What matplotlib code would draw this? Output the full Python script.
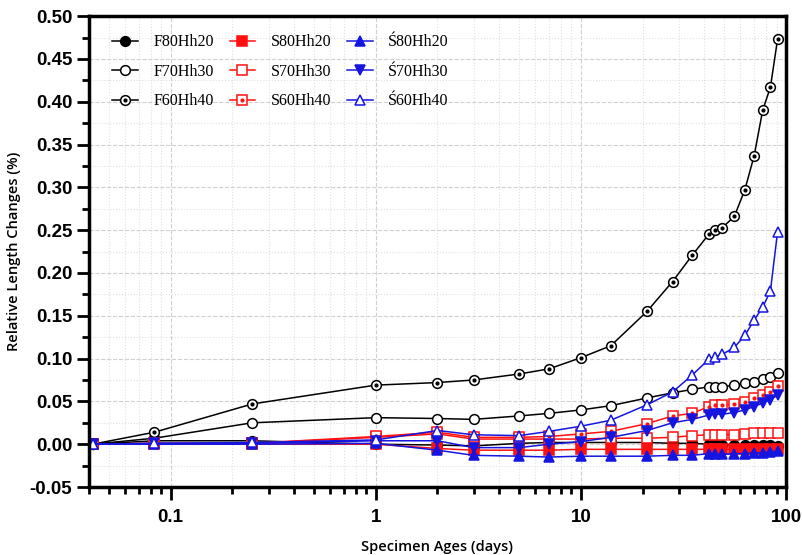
import matplotlib.pyplot as plt
from matplotlib.ticker import FixedLocator, MultipleLocator, NullFormatter, LogLocator
from matplotlib.legend_handler import HandlerTuple
import numpy as np

# ages in days (1 h, 2 h, 6 h, then days)
days = [1 / 24, 2 / 24, 6 / 24, 1, 2, 3, 5, 7, 10, 14, 21, 28, 35, 42, 45, 49, 56, 63, 70, 77, 84, 91]

f80 = [0, 0.004, 0.004, 0.000, -0.001, -0.002, 0.001, 0.002, 0.002, 0.002, 0.002, 0.001,
       0.001, 0.000, 0.000, -0.001, -0.001, -0.001, -0.001, -0.001, -0.001, -0.002]
f70 = [0, 0.007, 0.025, 0.031, 0.030, 0.029, 0.033, 0.036, 0.040, 0.045, 0.054, 0.060,
       0.064, 0.067, 0.067, 0.067, 0.069, 0.071, 0.073, 0.076, 0.078, 0.083]
f60 = [0, 0.014, 0.047, 0.069, 0.072, 0.075, 0.082, 0.088, 0.101, 0.115, 0.155, 0.190,
       0.221, 0.245, 0.250, 0.253, 0.266, 0.297, 0.337, 0.390, 0.417, 0.473]
s80 = [0, 0.000, 0.000, 0.000, -0.005, -0.007, -0.007, -0.007, -0.006, -0.006, -0.006, -0.006,
       -0.006, -0.006, -0.006, -0.006, -0.006, -0.006, -0.006, -0.006, -0.006, -0.006]
s70 = [0, 0.001, 0.001, 0.008, 0.012, 0.006, 0.006, 0.006, 0.006, 0.007, 0.007, 0.008,
       0.010, 0.011, 0.011, 0.011, 0.011, 0.012, 0.013, 0.013, 0.013, 0.013]
s60 = [0, 0.001, 0.001, 0.009, 0.014, 0.008, 0.008, 0.009, 0.012, 0.015, 0.024, 0.033,
       0.036, 0.044, 0.046, 0.046, 0.047, 0.049, 0.054, 0.058, 0.061, 0.068]
z80 = [0, 0.000, 0.000, 0.001, -0.007, -0.013, -0.014, -0.015, -0.014, -0.014, -0.014, -0.013,
       -0.013, -0.011, -0.012, -0.012, -0.011, -0.011, -0.010, -0.010, -0.009, -0.008]
z70 = [0, 0.001, 0.001, 0.004, 0.004, -0.004, -0.004, 0.000, 0.003, 0.008, 0.016, 0.025,
       0.029, 0.034, 0.035, 0.035, 0.037, 0.040, 0.044, 0.048, 0.052, 0.058]
z60 = [0, 0.001, 0.002, 0.005, 0.016, 0.011, 0.010, 0.015, 0.021, 0.028, 0.046, 0.061,
       0.081, 0.099, 0.102, 0.105, 0.113, 0.127, 0.145, 0.160, 0.179, 0.248]

names = ["F80Hh20", "F70Hh30", "F60Hh40",
         "S80Hh20", "S70Hh30", "S60Hh40",
         "Ś80Hh20", "Ś70Hh30", "Ś60Hh40"]
series = [f80, f70, f60, s80, s70, s60, z80, z70, z60]

black = "black"
red = "#ff1010"
blue = "#1515e0"
styles = [
    (black, "o", True, False),
    (black, "o", False, False),
    (black, "o", False, True),
    (red, "s", True, False),
    (red, "s", False, False),
    (red, "s", False, True),
    (blue, "^", True, False),
    (blue, "v", True, False),
    (blue, "^", False, False),
]

fig = plt.figure(figsize=(8.02, 5.55), dpi=100)
ax = fig.add_axes([0.111, 0.1225, 0.869, 0.8485])

handles = []
for name, y, (col, mk, filled, dot) in zip(names, series, styles):
    line, = ax.plot(days, y, color=col, marker=mk, markersize=7, linewidth=1.1,
                    markerfacecolor=col if filled else "white",
                    markeredgecolor=col, markeredgewidth=1.1, label=name)
    if dot:
        d, = ax.plot(days, y, linestyle="none", marker="o", markersize=2, color=col)
        handles.append((line, d))
    else:
        handles.append(line)

ax.set_xscale("log")
ax.set_xlim(0.04, 100)
ax.set_ylim(-0.05, 0.50)

ax.xaxis.set_major_locator(FixedLocator([0.1, 1, 10, 100]))
ax.set_xticklabels(["0.1", "1", "10", "100"])
ax.xaxis.set_minor_locator(LogLocator(base=10, subs=np.arange(2, 10)))
ax.xaxis.set_minor_formatter(NullFormatter())
ax.yaxis.set_major_locator(MultipleLocator(0.05))
ax.yaxis.set_minor_locator(MultipleLocator(0.025))
ax.set_yticklabels(["%.2f" % v for v in ax.get_yticks()])

for lab in ax.get_xticklabels() + ax.get_yticklabels():
    lab.set_fontfamily("Liberation Sans")
    lab.set_fontweight("bold")
    lab.set_fontsize(13.5)

ax.tick_params(axis="both", which="major", direction="out", length=9, width=2, pad=3)
ax.tick_params(axis="x", which="major", pad=7)
ax.tick_params(axis="both", which="minor", direction="out", length=5, width=2)
for sp in ax.spines.values():
    sp.set_linewidth(2.5)

ax.grid(True, which="major", color="#d0d0d0", linestyle="--", linewidth=0.8)
ax.grid(True, which="minor", color="#e0e0e0", linestyle=":", linewidth=0.8)
ax.set_axisbelow(True)

ax.set_xlabel("Specimen Ages (days)", fontfamily="Open Sans", fontweight="semibold",
              fontsize=10.5, labelpad=10)
ax.set_ylabel("Relative Length Changes (%)", fontfamily="Open Sans", fontweight="semibold",
              fontsize=10.5, labelpad=6)

ax.legend(handles, names, ncol=3, loc="upper left", frameon=False,
          prop={"family": "Liberation Serif", "size": 11.5},
          handler_map={tuple: HandlerTuple(ndivide=1, pad=0)},
          handlelength=1.6, columnspacing=1.0, labelspacing=0.85,
          handletextpad=0.95, bbox_to_anchor=(0.013, 0.992))

fig.savefig("out.png", dpi=100)
